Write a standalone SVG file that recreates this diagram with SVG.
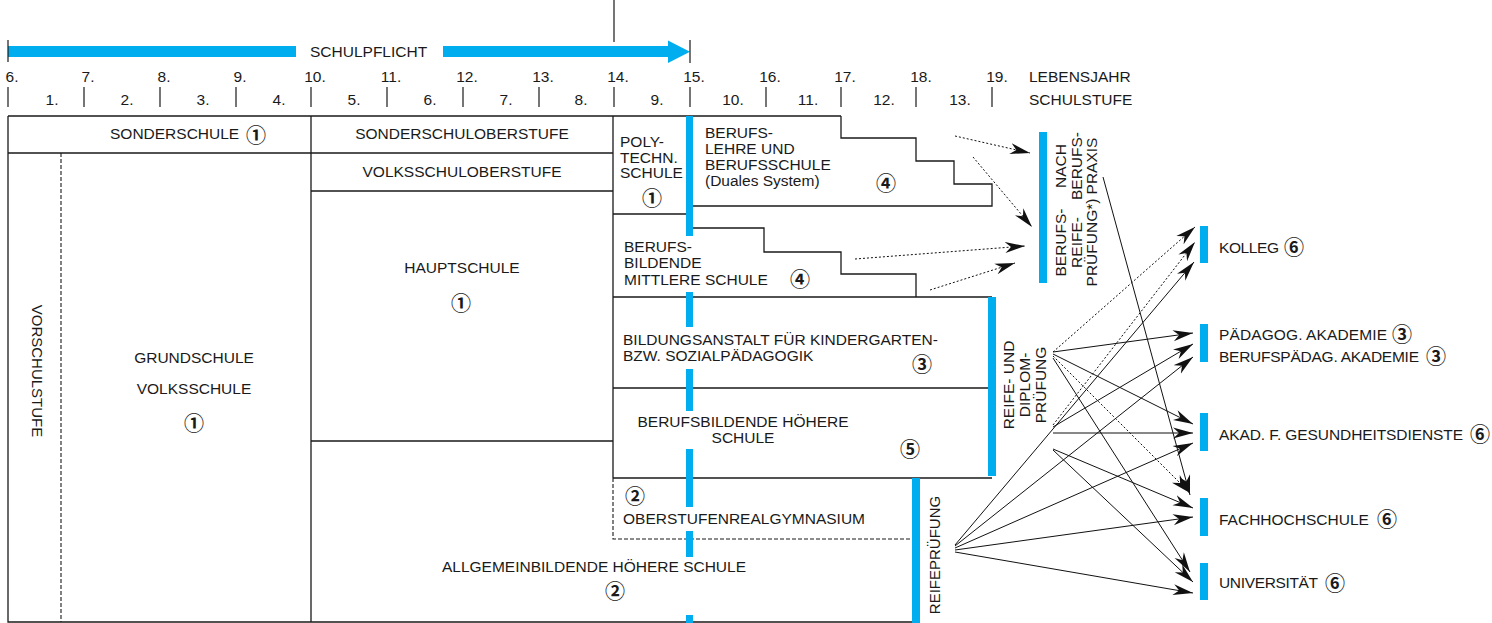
<svg xmlns="http://www.w3.org/2000/svg" width="1492" height="623" viewBox="0 0 1492 623">
<defs>
<style>
text{font-family:"Liberation Sans",Arial,sans-serif;font-size:15.5px;fill:#1a1a1a}
.c{text-anchor:middle}
.sm{font-size:13px}
.md{font-size:15px}
.n{font-family:"Noto Sans CJK JP","DejaVu Sans",sans-serif;font-size:20px;font-weight:bold;text-anchor:middle;dominant-baseline:central}
.ln{stroke:#1a1a1a;stroke-width:1.3;fill:none}
.ds{stroke:#1a1a1a;stroke-width:1.1;fill:none;stroke-dasharray:4 2}
.bl{fill:#00aeef}
.a{stroke:#111;stroke-width:1;fill:none;marker-end:url(#ah)}
.d{stroke:#111;stroke-width:1;fill:none;stroke-dasharray:2 2;marker-end:url(#ah)}
.tk{stroke:#1a1a1a;stroke-width:1.2}
</style>
<marker id="ah" viewBox="-20 -6 20 12" markerWidth="20" markerHeight="12" refX="0" refY="0" orient="auto" markerUnits="userSpaceOnUse">
<path d="M0,0 L-20,-5.5 L-14,0 L-20,5.5 Z" fill="#111" stroke="none"/>
</marker>
</defs>
<rect width="1492" height="623" fill="#fff"/>

<g id="timeline">
<line class="tk" x1="614" y1="0" x2="614" y2="42"/>
<rect class="bl" x="8" y="46" width="288" height="11"/>
<rect class="bl" x="443" y="46" width="226" height="11"/>
<polygon class="bl" points="668,40.5 690,51.7 668,63"/>
<line class="tk" x1="8" y1="40" x2="8" y2="62"/>
<line class="tk" x1="690" y1="40" x2="690" y2="63"/>
<text x="310" y="57">SCHULPFLICHT</text>
<g class="c">
<text x="12" y="82">6.</text><text x="88" y="82">7.</text><text x="164" y="82">8.</text><text x="240" y="82">9.</text>
<text x="315" y="82">10.</text><text x="391" y="82">11.</text><text x="467" y="82">12.</text><text x="543" y="82">13.</text>
<text x="618" y="82">14.</text><text x="694" y="82">15.</text><text x="770" y="82">16.</text><text x="845" y="82">17.</text>
<text x="921" y="82">18.</text><text x="997" y="82">19.</text>
<text x="52" y="105">1.</text><text x="127" y="105">2.</text><text x="203" y="105">3.</text><text x="279" y="105">4.</text>
<text x="354" y="105">5.</text><text x="430" y="105">6.</text><text x="506" y="105">7.</text><text x="581" y="105">8.</text>
<text x="657" y="105">9.</text><text x="733" y="105">10.</text><text x="808" y="105">11.</text><text x="884" y="105">12.</text>
<text x="960" y="105">13.</text>
</g>
<text x="1029" y="82">LEBENSJAHR</text>
<text x="1029" y="105">SCHULSTUFE</text>
<g class="tk">
<line x1="8" y1="87" x2="8" y2="107"/><line x1="84" y1="87" x2="84" y2="107"/><line x1="160" y1="87" x2="160" y2="107"/>
<line x1="236" y1="87" x2="236" y2="107"/><line x1="311" y1="87" x2="311" y2="107"/><line x1="387" y1="87" x2="387" y2="107"/>
<line x1="463" y1="87" x2="463" y2="107"/><line x1="539" y1="87" x2="539" y2="107"/><line x1="614" y1="87" x2="614" y2="107"/>
<line x1="690" y1="87" x2="690" y2="107"/><line x1="766" y1="87" x2="766" y2="107"/><line x1="841" y1="87" x2="841" y2="107"/>
<line x1="916" y1="87" x2="916" y2="107"/><line x1="992" y1="87" x2="992" y2="107"/>
</g>
</g>

<g id="grid">
<path class="ln" d="M8,116 H841 M8,116 V622 H912 M8,153 H613 M311,116 V622 M613,116 V478 M311,191 H613 M311,441 H613 M613,214 H686 M613,297 H992 M613,388 H988 M613,478 H992"/>
<path class="ln" d="M841,116 V138 H916 V161 H954 V184 H992 V206 H693"/>
<path class="ln" d="M693,228 H764 V252 H841 V274 H916 V297"/>
<path class="ds" d="M61,153 V622 M613,478 V539 H912"/>
</g>

<g id="blue-bars">
<rect class="bl" x="686" y="116" width="7" height="120"/>
<rect class="bl" x="686" y="292" width="7" height="35"/>
<rect class="bl" x="686" y="369" width="7" height="42"/>
<rect class="bl" x="686" y="449" width="7" height="58"/>
<rect class="bl" x="686" y="531" width="7" height="26"/>
<rect class="bl" x="686" y="615" width="7" height="8"/>
</g>

<g id="sonderschule"><text x="110" y="139">SONDERSCHULE</text><text class="n" x="256" y="134">①</text></g>
<g id="sonderschuloberstufe"><text class="c" x="462" y="139">SONDERSCHULOBERSTUFE</text></g>
<g id="vorschulstufe"><text class="c md" transform="translate(32,371) rotate(90)">VORSCHULSTUFE</text></g>
<g id="volksschule">
<text class="c" x="194" y="363">GRUNDSCHULE</text>
<text class="c" x="194" y="394">VOLKSSCHULE</text>
<text class="n" x="194" y="422">①</text>
</g>
<g id="volksschuloberstufe"><text class="c" x="462" y="177">VOLKSSCHULOBERSTUFE</text></g>
<g id="hauptschule"><text class="c" x="462" y="273">HAUPTSCHULE</text><text class="n" x="461" y="302">①</text></g>
<g id="ahs"><text class="c" x="594" y="572">ALLGEMEINBILDENDE HÖHERE SCHULE</text><text class="n" x="615" y="590">②</text></g>
<g id="polytechn">
<text x="620" y="147">POLY-</text><text x="620" y="163">TECHN.</text><text x="620" y="178">SCHULE</text>
<text class="n" x="652" y="197">①</text>
</g>
<g id="berufslehre">
<text x="705" y="138">BERUFS-</text><text x="705" y="154">LEHRE UND</text><text x="705" y="170">BERUFSSCHULE</text><text x="705" y="186">(Duales System)</text>
<text class="n" x="886" y="182">④</text>
</g>
<g id="bms">
<text x="624" y="252">BERUFS-</text><text x="624" y="268">BILDENDE</text><text x="624" y="285">MITTLERE SCHULE</text>
<text class="n" x="800" y="278">④</text>
</g>
<g id="bakip">
<text x="623" y="345">BILDUNGSANSTALT FÜR KINDERGARTEN-</text><text x="623" y="361">BZW. SOZIALPÄDAGOGIK</text>
<text class="n" x="922" y="363">③</text>
</g>
<g id="bhs">
<text class="c" x="743" y="427">BERUFSBILDENDE HÖHERE</text><text class="c" x="743" y="443">SCHULE</text>
<text class="n" x="910" y="448">⑤</text>
</g>
<g id="org">
<text class="n" x="635" y="495">②</text>
<text x="623" y="524">OBERSTUFENREALGYMNASIUM</text>
</g>
<g id="reife-diplom">
<rect class="bl" x="988" y="297" width="8" height="179"/>
<g class="c sm" transform="translate(1014,385) rotate(-90)"><text x="0" y="0">REIFE- UND</text><text x="0" y="16">DIPLOM-</text><text x="0" y="32">PRÜFUNG</text></g>
</g>
<g id="reifepruefung">
<rect class="bl" x="912" y="478" width="8" height="145"/>
<text class="c md" transform="translate(940,555) rotate(-90)">REIFEPRÜFUNG</text>
</g>
<g id="berufsreife">
<rect class="bl" x="1039" y="132" width="8" height="151"/>
<g class="c sm" transform="translate(1066,166) rotate(-90)"><text x="0" y="0">NACH</text><text x="0" y="15.5">BERUFS-</text><text x="0" y="31">PRAXIS</text></g>
<g class="c sm" transform="translate(1066,242.5) rotate(-90)"><text x="0" y="0">BERUFS-</text><text x="0" y="15.5">REIFE-</text><text x="0" y="31">PRÜFUNG*)</text></g>
</g>
<g id="kolleg"><rect class="bl" x="1200" y="226" width="8" height="37"/><text x="1219" y="253" textLength="60">KOLLEG</text><text class="n" x="1294" y="246">⑥</text></g>
<g id="paedak"><rect class="bl" x="1200" y="324" width="8" height="38"/>
<text x="1219" y="340" textLength="168">PÄDAGOG. AKADEMIE</text><text class="n" x="1402" y="333">③</text>
<text x="1219" y="362" textLength="200">BERUFSPÄDAG. AKADEMIE</text><text class="n" x="1436" y="355">③</text></g>
<g id="akad"><rect class="bl" x="1200" y="413" width="8" height="38"/><text x="1219" y="440" textLength="244">AKAD. F. GESUNDHEITSDIENSTE</text><text class="n" x="1480" y="433">⑥</text></g>
<g id="fh"><rect class="bl" x="1200" y="498" width="8" height="38"/><text x="1219" y="525">FACHHOCHSCHULE</text><text class="n" x="1387" y="518">⑥</text></g>
<g id="uni"><rect class="bl" x="1200" y="563" width="8" height="37"/><text x="1219" y="588" textLength="99">UNIVERSITÄT</text><text class="n" x="1335" y="582">⑥</text></g>

<g id="connectors">
<line class="d" x1="955" y1="136" x2="1030" y2="153"/>
<line class="d" x1="973" y1="157" x2="1032" y2="227"/>
<line class="d" x1="855" y1="259" x2="1025" y2="246"/>
<line class="d" x1="930" y1="290" x2="1015" y2="263"/>
<line class="a" x1="1103" y1="177" x2="1190" y2="495"/>
<line class="d" x1="1053" y1="352" x2="1195" y2="227"/>
<line class="a" x1="1053" y1="352" x2="1193" y2="333"/>
<line class="a" x1="1053" y1="354" x2="1193" y2="424"/>
<line class="d" x1="1053" y1="356" x2="1190" y2="493"/>
<line class="a" x1="1053" y1="358" x2="1190" y2="572"/>
<line class="d" x1="1053" y1="425" x2="1195" y2="242"/>
<line class="a" x1="1053" y1="427" x2="1193" y2="344"/>
<line class="a" x1="1053" y1="433" x2="1193" y2="433"/>
<line class="a" x1="1053" y1="449" x2="1193" y2="508"/>
<line class="a" x1="1053" y1="450" x2="1193" y2="582"/>
<line class="a" x1="955" y1="545" x2="1194" y2="262"/>
<line class="a" x1="955" y1="546" x2="1193" y2="357"/>
<line class="a" x1="955" y1="548" x2="1193" y2="443"/>
<line class="a" x1="955" y1="550" x2="1193" y2="517"/>
<line class="a" x1="955" y1="552" x2="1193" y2="593"/>
</g>
</svg>
